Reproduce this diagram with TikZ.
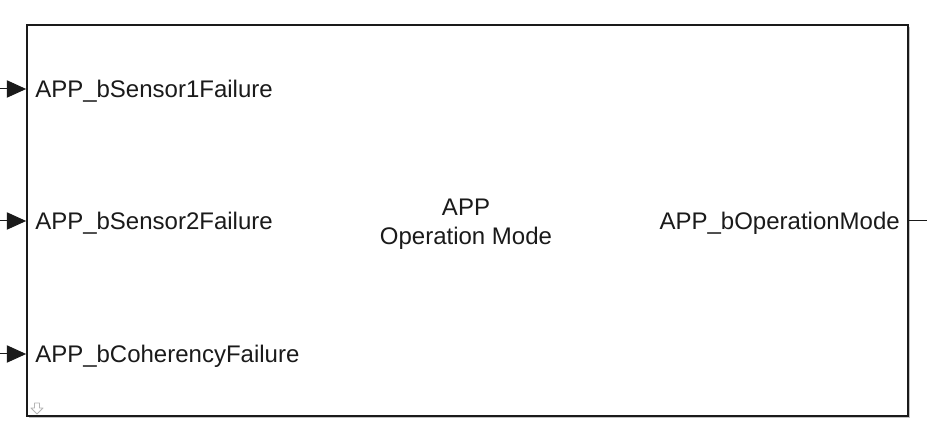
\documentclass[tikz,border=0pt]{standalone}
\usepackage{fontspec}
\setmainfont{Liberation Sans}
\usetikzlibrary{arrows.meta,positioning,shadows}
\definecolor{Borde}{HTML}{1A1A1A}
\definecolor{Sombra}{HTML}{9A9A9A}
\definecolor{Icono}{HTML}{B5B5B5}

\begin{document}
\begin{tikzpicture}[
  x=0.75pt,y=0.75pt,
  font=\fontsize{18}{22}\selectfont,
  >=Triangle,
  bloque/.style={draw=Borde,line width=1.3pt,fill=white,minimum width=660.75pt,minimum height=293.25pt,
    drop shadow={shadow xshift=1.5pt,shadow yshift=-1.5pt,fill=Sombra,opacity=0.6}},
  puerto/.style={inner sep=0pt,text=Borde},
  entrada/.style={-{Triangle[length=14.5pt,width=13pt]},line width=0.75pt,Borde},
  linea/.style={line width=0.75pt,Borde}
]
  \useasboundingbox (0,0) rectangle (927,442);

  % bloque del subsistema
  \node[bloque] (blk) at (467.5,221.5) {};
  \node[align=center,text=Borde] (titulo) at (466,218) {APP\\Operation Mode};

  % entradas
  \coordinate (e1) at (0,353);
  \coordinate (e2) at (0,221);
  \coordinate (e3) at (0,88);
  \node[puerto,anchor=west] (uno) at (35,351) {APP\_bSensor1Failure};
  \node[puerto,anchor=west] (dos) at (35,219) {APP\_bSensor2Failure};
  \node[puerto,anchor=west] (tres) at (35,86) {APP\_bCoherencyFailure};
  \draw[entrada] (e1) -- (blk.west |- e1);
  \draw[entrada] (e2) -- (blk.west |- e2);
  \draw[entrada] (e3) -- (blk.west |- e3);

  % salida
  \coordinate (s1) at (927,221);
  \node[puerto,anchor=east] (salida) at (900,219) {APP\_bOperationMode};
  \draw[linea] (blk.east |- s1) -- (s1);

  % icono de la esquina
  \draw[Icono,fill=white,line width=0.7pt,line join=round]
    (34.5,39) -- (39.5,39) -- (39.5,34) -- (43,34) -- (37,28) -- (31,34) -- (34.5,34) -- cycle;
\end{tikzpicture}
\end{document}
